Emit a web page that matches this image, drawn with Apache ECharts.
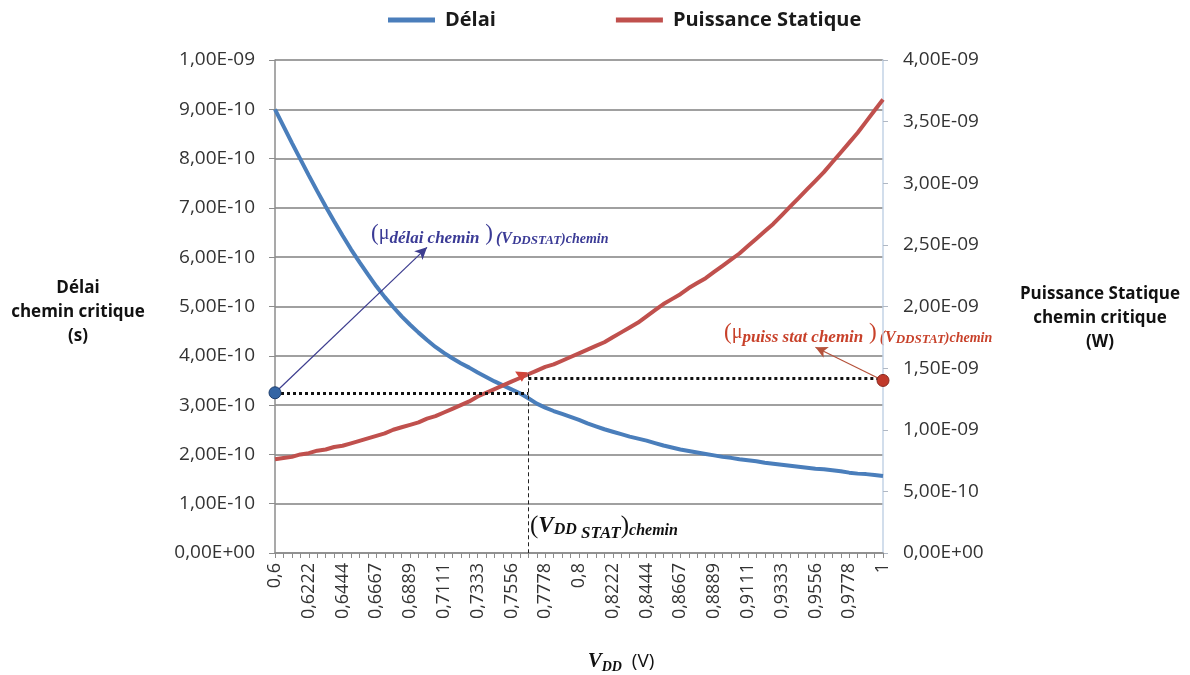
<!DOCTYPE html>
<html>
<head>
<meta charset="utf-8">
<script src="https://cdn.jsdelivr.net/npm/echarts@6/dist/echarts.min.js"></script>
<style>html,body{margin:0;padding:0;background:#fff}#c{width:1190px;height:675px}</style>
</head>
<body>
<div id="c"></div>
<script>
// ---------- DATA ----------
const vddCategories = ['0,6','0,6056','0,6111','0,6167','0,6222','0,6278','0,6333','0,6389','0,6444','0,65',
 '0,6556','0,6611','0,6667','0,6722','0,6778','0,6833','0,6889','0,6944','0,7','0,7056',
 '0,7111','0,7167','0,7222','0,7278','0,7333','0,7389','0,7444','0,75','0,7556','0,7611',
 '0,7667','0,7722','0,7778','0,7833','0,7889','0,7944','0,8','0,8056','0,8111','0,8167',
 '0,8222','0,8278','0,8333','0,8389','0,8444','0,85','0,8556','0,8611','0,8667','0,8722',
 '0,8778','0,8833','0,8889','0,8944','0,9','0,9056','0,9111','0,9167','0,9222','0,9278',
 '0,9333','0,9389','0,9444','0,95','0,9556','0,9611','0,9667','0,9722','0,9778','0,9833',
 '0,9889','0,9944','1'];

// Délai chemin critique (s), read in units of 1e-10 s
const delaiE10 = [9.00,8.66,8.32,7.99,7.66,7.34,7.03,6.73,6.44,6.16,
 5.90,5.65,5.41,5.19,4.99,4.80,4.63,4.47,4.32,4.18,
 4.06,3.95,3.85,3.76,3.66,3.57,3.48,3.40,3.32,3.24,
 3.14,3.03,2.95,2.88,2.82,2.76,2.70,2.63,2.57,2.51,
 2.46,2.41,2.36,2.32,2.28,2.23,2.18,2.14,2.10,2.07,
 2.04,2.01,1.98,1.95,1.93,1.90,1.88,1.86,1.83,1.81,
 1.79,1.77,1.75,1.73,1.71,1.70,1.68,1.66,1.63,1.61,
 1.60,1.58,1.56];

// Puissance statique chemin critique (W), read in units of 1e-9 W
const puissanceE9 = [0.76,0.77,0.78,0.80,0.81,0.83,0.84,0.86,0.87,0.89,
 0.91,0.93,0.95,0.97,1.00,1.02,1.04,1.06,1.09,1.11,
 1.14,1.17,1.20,1.23,1.27,1.30,1.33,1.36,1.39,1.42,
 1.45,1.48,1.51,1.53,1.56,1.59,1.62,1.65,1.68,1.71,
 1.75,1.79,1.83,1.87,1.92,1.97,2.02,2.06,2.10,2.15,
 2.19,2.23,2.28,2.33,2.38,2.43,2.49,2.55,2.61,2.67,
 2.74,2.81,2.88,2.95,3.02,3.09,3.17,3.25,3.33,3.41,
 3.50,3.59,3.68];

// annotation values
const statIndex = 30;              // (VDD STAT) chemin
const delaiStat = 3.25e-10;        // μ délai chemin
const puissStat = 1.42e-9;         // μ puiss stat chemin
const puissDot = 1.40e-9;
const delaiArrowEnd = [18, 6.2e-10];
const puissArrowEnd = [64, 1.67e-9];

const leftTicks = {min: 0, max: 1e-9, interval: 1e-10};
const rightTicks = {min: 0, max: 4e-9, interval: 5e-10};

// ---------- CHART ----------
const FONT = '"Open Sans", Lato, sans-serif';
const SERIF = '"Liberation Serif", "DejaVu Serif", serif';
const BLUE = '#4a7ebb', RED = '#c0504d';

function sci(v) {
  if (v === 0) return '0,00E+00';
  let e = Math.floor(Math.log10(Math.abs(v)) + 1e-9);
  let m = v / Math.pow(10, e);
  if (Math.round(m * 100) / 100 >= 10) { m /= 10; e++; }
  return m.toFixed(2).replace('.', ',') + 'E' + (e < 0 ? '-' : '+') + String(Math.abs(e)).padStart(2, '0');
}

const delai = delaiE10.map(v => +(v * 1e-10).toPrecision(6));
const puissance = puissanceE9.map(v => +(v * 1e-9).toPrecision(6));
const C = i => vddCategories[i];

function annot(color) {
  return {
    p: {font: '23px ' + SERIF, fill: color},
    m: {font: '20px ' + SERIF, fill: color},
    s: {font: 'bold italic 17px ' + SERIF, fill: color, padding: [9, 0, 0, 0]},
    q: {font: 'bold italic 16px ' + SERIF, fill: color, padding: [9, 0, 0, 3]},
    t: {font: 'bold italic 13px ' + SERIF, fill: color, padding: [13, 0, 0, 0]},
    r: {font: 'bold italic 14px ' + SERIF, fill: color, padding: [10, 0, 0, 0]}
  };
}

const chart = echarts.init(document.getElementById('c'), null, {renderer: 'canvas'});
chart.setOption({
  animation: false,
  backgroundColor: '#fff',
  grid: {left: 275, right: 307, top: 60, bottom: 122, containLabel: false},
  legend: {
    top: 5, left: 383, itemWidth: 47, itemHeight: 5, itemGap: 120, icon: 'rect',
    textStyle: {fontSize: 20, fontWeight: 'bold', color: '#1a1a1a', fontFamily: FONT, padding: [0, 0, 0, 5]},
    data: ['Délai', 'Puissance Statique']
  },
  xAxis: {
    type: 'category', data: vddCategories, boundaryGap: false,
    axisLine: {lineStyle: {color: '#8c8c8c', width: 1.5}},
    axisTick: {show: true, interval: 0, length: 5, lineStyle: {color: '#8c8c8c'}},
    axisLabel: {interval: 3, rotate: 90, fontSize: 18, color: '#333', fontFamily: FONT, margin: 10},
    splitLine: {show: false}
  },
  yAxis: [{
    type: 'value', min: leftTicks.min, max: leftTicks.max, interval: leftTicks.interval,
    axisLine: {show: true, lineStyle: {color: '#8c8c8c', width: 1.5}},
    axisTick: {show: true, length: 6, lineStyle: {color: '#8c8c8c'}},
    axisLabel: {formatter: sci, fontSize: 19, color: '#333', fontFamily: FONT, margin: 20},
    splitLine: {show: true, lineStyle: {color: '#a0a0a0', width: 2}}
  }, {
    type: 'value', min: rightTicks.min, max: rightTicks.max, interval: rightTicks.interval,
    axisLine: {show: true, lineStyle: {color: '#c3d3e6', width: 1.5}},
    axisTick: {show: true, length: 5, lineStyle: {color: '#b0b8c4'}},
    axisLabel: {formatter: sci, fontSize: 19, color: '#333', fontFamily: FONT, margin: 20},
    splitLine: {show: false}
  }],
  series: [{
    name: 'Délai', type: 'line', yAxisIndex: 0, data: delai, symbol: 'none',
    lineStyle: {color: BLUE, width: 4}, itemStyle: {color: BLUE}, z: 3,
    markLine: {
      silent: true, animation: false, label: {show: false}, symbol: ['none', 'none'],
      data: [
        [{coord: [C(0), delaiStat], lineStyle: {color: '#111', width: 3, type: [3, 3]}},
         {coord: [C(statIndex), delaiStat]}],
        [{coord: [C(0), delaiStat], symbol: 'none', lineStyle: {color: '#3d3d8f', width: 1.2, type: 'solid'}},
         {coord: [C(delaiArrowEnd[0]), delaiArrowEnd[1]], symbol: 'arrow', symbolSize: [9, 12]}]
      ]
    },
    markPoint: {
      silent: true, animation: false, label: {show: false},
      data: [{coord: [C(0), delaiStat], symbol: 'circle', symbolSize: 12,
              itemStyle: {color: '#3465a4', borderColor: '#1f3f6e', borderWidth: 1}}]
    }
  }, {
    name: 'Puissance Statique', type: 'line', yAxisIndex: 1, data: puissance, symbol: 'none',
    lineStyle: {color: RED, width: 4}, itemStyle: {color: RED}, z: 3,
    markLine: {
      silent: true, animation: false, label: {show: false}, symbol: ['none', 'none'],
      data: [
        [{coord: [C(statIndex), puissStat], lineStyle: {color: '#111', width: 3, type: [3, 3]}},
         {coord: [C(vddCategories.length - 1), puissStat]}],
        [{coord: [C(statIndex), puissStat + 0.03e-9], lineStyle: {color: '#222', width: 1, type: [4, 3]}},
         {coord: [C(statIndex), 0]}],
        [{coord: [C(vddCategories.length - 1), puissDot], symbol: 'none', lineStyle: {color: '#b5523b', width: 1.2, type: 'solid'}},
         {coord: [C(puissArrowEnd[0]), puissArrowEnd[1]], symbol: 'arrow', symbolSize: [9, 12]}]
      ]
    },
    markPoint: {
      silent: true, animation: false, label: {show: false},
      data: [
        {coord: [C(vddCategories.length - 1), puissDot], symbol: 'circle', symbolSize: 12,
         itemStyle: {color: '#c0392b', borderColor: '#8a2a20', borderWidth: 1}},
        {coord: [C(statIndex - 1), puissStat + 0.03e-9], symbol: 'triangle', symbolSize: 11, symbolRotate: 60,
         itemStyle: {color: '#d0453a'}}
      ]
    }
  }],
  graphic: [
    {type: 'text', x: 78, y: 312, style: {
      text: 'Délai\nchemin critique\n(s)', font: 'bold 17px ' + FONT, fill: '#111',
      align: 'center', verticalAlign: 'middle', lineHeight: 24}},
    {type: 'text', x: 1100, y: 318, style: {
      text: 'Puissance Statique\nchemin critique\n(W)', font: 'bold 17px ' + FONT, fill: '#111',
      align: 'center', verticalAlign: 'middle', lineHeight: 24}},
    {type: 'text', x: 621, y: 662, style: {
      text: '{v|V}{s|DD}{u|  (V)}', align: 'center', verticalAlign: 'middle',
      rich: {
        v: {font: 'bold italic 21px ' + SERIF, fill: '#111'},
        s: {font: 'bold italic 14px ' + SERIF, fill: '#111', padding: [10, 0, 0, 0]},
        u: {font: '19px ' + FONT, fill: '#111'}
      }}},
    {type: 'text', x: 371, y: 234, style: {
      text: '{p|(}{m|μ}{s|délai chemin}{p| )}{q|(V}{t|DDSTAT}{r|)chemin}', verticalAlign: 'middle',
      rich: annot('#3b3b96')}},
    {type: 'text', x: 724, y: 333, style: {
      text: '{p|(}{m|μ}{s|puiss stat chemin}{p| )}{q|(V}{t|DDSTAT}{r|)chemin}', verticalAlign: 'middle',
      rich: annot('#c8412a')}},
    {type: 'text', x: 530, y: 526, style: {
      text: '{p|(}{v|V}{s|DD}{t| STAT}{p|)}{r|chemin}', verticalAlign: 'middle',
      rich: {
        p: {font: '25px ' + SERIF, fill: '#111'},
        v: {font: 'bold italic 23px ' + SERIF, fill: '#111'},
        s: {font: 'bold italic 16px ' + SERIF, fill: '#111', padding: [8, 0, 0, 0]},
        t: {font: 'bold italic 17px ' + SERIF, fill: '#111', padding: [16, 0, 0, 0]},
        r: {font: 'bold italic 16px ' + SERIF, fill: '#111', padding: [9, 0, 0, 0]}
      }}}
  ]
});
</script>
</body>
</html>
